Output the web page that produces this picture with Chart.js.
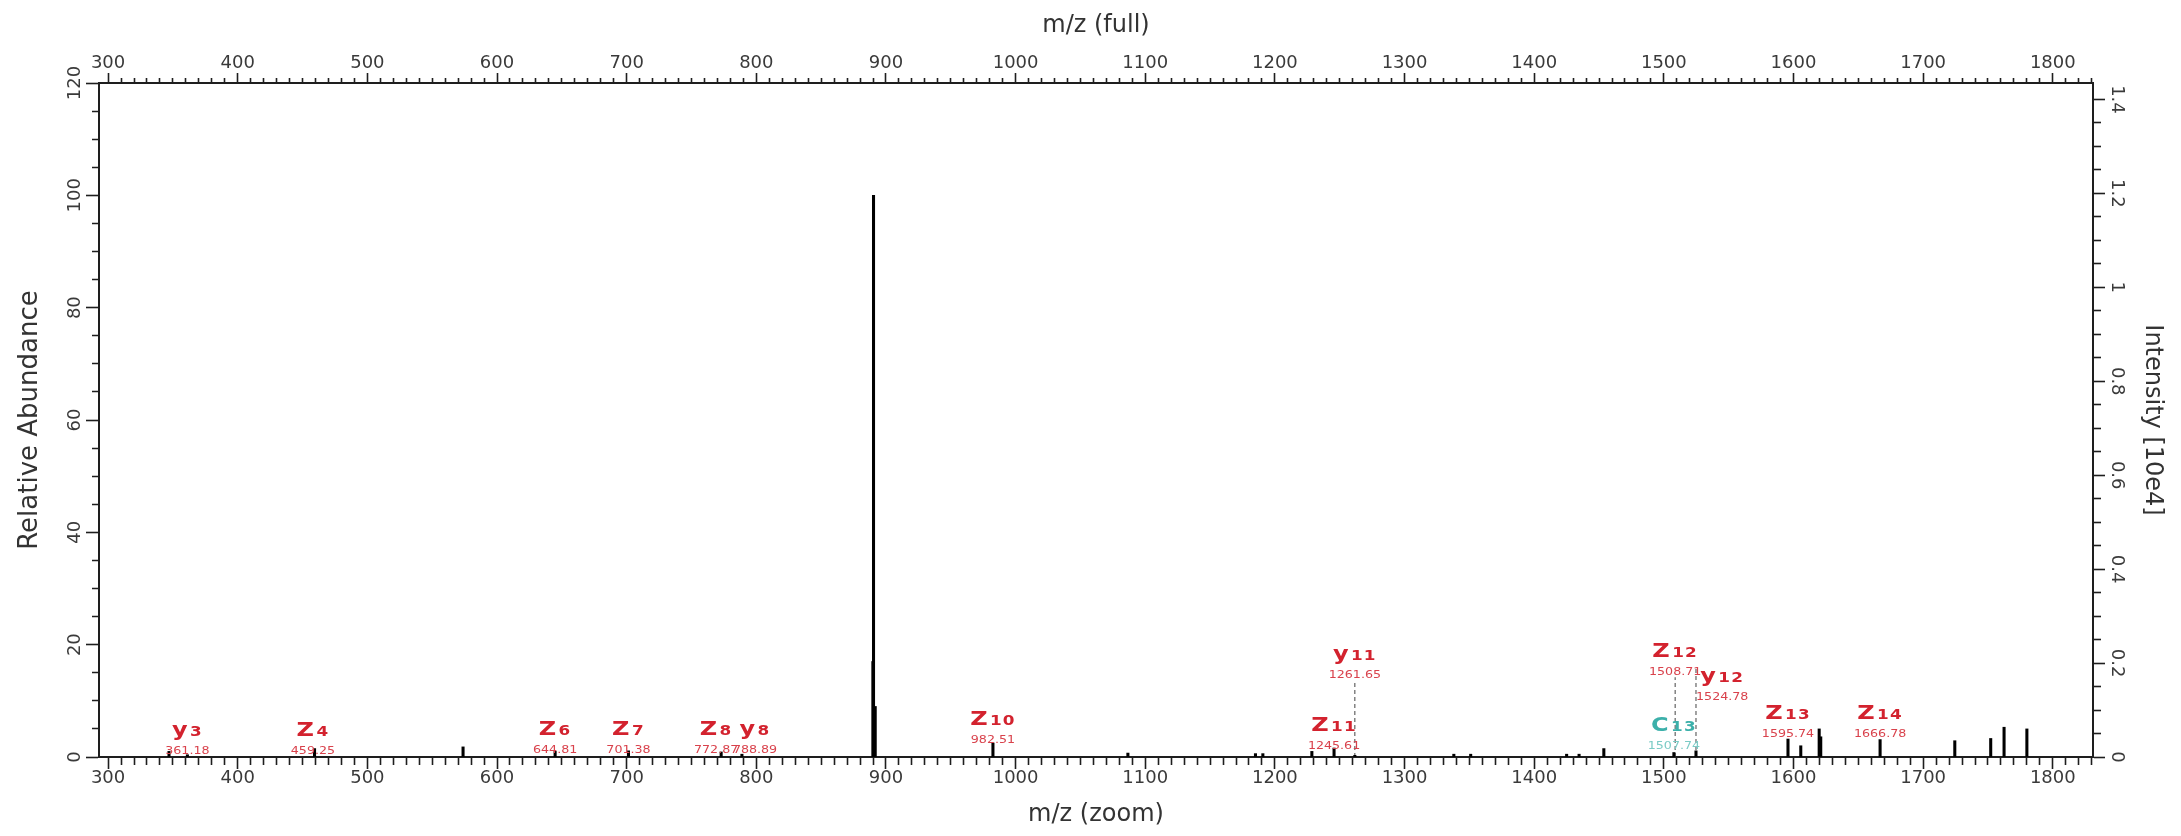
<!DOCTYPE html>
<html><head><meta charset="utf-8">
<script src="https://cdn.jsdelivr.net/npm/chart.js@4/dist/chart.umd.min.js"></script>
<style>html,body{margin:0;padding:0;background:#fff;}canvas{display:block;}</style>
</head><body>
<canvas id="c" width="2181" height="836"></canvas>
<script>
// ---- data ----
const peakMz = [347.0, 361.18, 459.25, 573.8, 644.81, 701.38, 772.87, 788.89, 889.9, 890.4, 891.7,
  982.51, 1086.6, 1185.0, 1190.7, 1228.5, 1245.61, 1261.65, 1338.0, 1351.0, 1425.0, 1434.6, 1453.7,
  1507.74, 1524.78, 1595.74, 1605.6, 1619.8, 1621.0, 1666.78, 1724.4, 1752.1, 1762.4, 1780.0];
const peakIntensity = [1.0, 0.4, 1.5, 1.8, 1.0, 1.1, 0.9, 0.5, 17, 100, 9,
  2.5, 0.7, 0.6, 0.6, 1.0, 1.6, 0.3, 0.5, 0.5, 0.5, 0.5, 1.5,
  0.8, 1.1, 3.2, 2.0, 5.0, 3.6, 3.1, 2.9, 3.3, 5.3, 5.0];

const dashMz = [1261.65, 1508.71, 1524.78];
const dashTop = [13.7, 14.2, 16.0];

const ionLetter = ['y', 'Z', 'Z', 'Z', 'Z', 'y', 'Z', 'Z', 'y', 'Z', 'y', 'C', 'Z', 'Z'];
const ionNumber = ['3', '4', '6', '7', '8', '8', '10', '11', '11', '12', '12', '13', '13', '14'];
const ionMzText = ['361.18', '459.25', '644.81', '701.38', '772.87', '788.89', '982.51', '1245.61',
  '1261.65', '1508.71', '1524.78', '1507.74', '1595.74', '1666.78'];
const ionAnchorMz = [361.18, 458, 644.81, 701.38, 769, 799, 982.51, 1245.61, 1261.65, 1508.71, 1545, 1507.74, 1595.74, 1666.78];
const ionLevel = [0.5, 0.5, 0.7, 0.7, 0.7, 0.7, 2.5, 1.4, 14, 14.6, 10.1, 1.4, 3.6, 3.6];

const mzMin = 293, mzMax = 1831;
const relMax = 120, intensityMax = 1.435;
const xTitleBottom = 'm/z (zoom)', xTitleTop = 'm/z (full)';
const yTitleLeft = 'Relative Abundance', yTitleRight = 'Intensity [10e4]';

// ---- styles ----
const AX = '#1e1e1e', TXT = '#3a3a3a';
const tickFont = {family: 'DejaVu Sans', size: 18};
const titleFontH = {family: 'DejaVu Sans', size: 24};
const isMult = (v, s) => Math.abs(v / s - Math.round(v / s)) < 1e-6;

const dashData = [];
dashMz.forEach((m, i) => { dashData.push({x: m, y: 0}, {x: m, y: dashTop[i]}, {x: m, y: null}); });

const ionLabels = {
  id: 'ionLabels',
  afterDatasetsDraw(chart) {
    const {ctx, scales: {x, y}} = chart;
    const SX = 1.2, SXN = 1.15;
    const LF = 'bold 20px "DejaVu Sans"', NF = 'bold 14px "DejaVu Sans"';
    ionLetter.forEach((L, i) => {
      const px = x.getPixelForValue(ionAnchorMz[i]);
      const py = y.getPixelForValue(ionLevel[i]);
      const teal = L.toLowerCase() === 'c';
      const strong = teal ? '#3cb0aa' : '#d3222e';
      const light = teal ? '#7ccbc6' : '#d9424c';
      // m/z value text
      ctx.save();
      ctx.translate(px, py);
      ctx.scale(SXN, 1);
      ctx.textBaseline = 'alphabetic';
      ctx.textAlign = 'center';
      ctx.font = '11px "DejaVu Sans"';
      ctx.fillStyle = light;
      ctx.fillText(ionMzText[i], 0, 0);
      ctx.restore();
      // ion name
      ctx.save();
      ctx.font = LF;
      const wL = ctx.measureText(L).width;
      ctx.font = NF;
      const wN = ctx.measureText(ionNumber[i]).width + ionNumber[i].length;
      const total = wL + 2 + wN;
      ctx.translate(px, py - 18);
      ctx.scale(SX, 1);
      ctx.textAlign = 'left';
      ctx.textBaseline = 'alphabetic';
      ctx.fillStyle = strong;
      ctx.font = LF;
      ctx.fillText(L, -total / 2, 0);
      ctx.font = NF;
      let cx = -total / 2 + wL + 2;
      for (const ch of ionNumber[i]) { ctx.fillText(ch, cx, 0); cx += ctx.measureText(ch).width + 1; }
      ctx.restore();
    });
  }
};

function xAxis(position, tl, minorDash, title, titlePad, fitH, pad) {
  return {
    type: 'linear', position, min: mzMin, max: mzMax, offset: false,
    border: {display: true, color: AX, width: 2},
    grid: {drawOnChartArea: false, drawTicks: true, offset: false, tickLength: tl, tickColor: AX, tickWidth: 1.6,
      tickBorderDash: ctx => (ctx.tick && isMult(ctx.tick.value, 100)) ? [] : minorDash},
    ticks: {stepSize: 10, includeBounds: false, autoSkip: false, maxRotation: 0, minRotation: 0,
      padding: pad, color: TXT, font: tickFont,
      callback: v => isMult(v, 100) ? String(Math.round(v)) : ''},
    title: {display: true, text: title, color: '#333', font: titleFontH, padding: titlePad},
    afterFit: s => { s.height = fitH; }
  };
}

new Chart(document.getElementById('c'), {
  type: 'bar',
  data: {
    datasets: [
      {type: 'bar', data: peakMz.map((m, i) => ({x: m, y: peakIntensity[i]})), xAxisID: 'x', yAxisID: 'y',
        backgroundColor: '#000', borderWidth: 0, barThickness: 2.4, grouped: false},
      {type: 'line', data: dashData, xAxisID: 'x', yAxisID: 'y', borderColor: '#444', borderWidth: 1,
        borderDash: [4, 3], pointRadius: 0, spanGaps: false, fill: false}
    ]
  },
  options: {
    responsive: false, animation: false,
    layout: {padding: 0},
    plugins: {legend: {display: false}, tooltip: {enabled: false}},
    scales: {
      x: xAxis('bottom', 12, [7, 100], xTitleBottom, {top: 0, bottom: 7}, 836 - 757, -1),
      x2: xAxis('top', 10, [0, 5, 5, 100], xTitleTop, {top: 11, bottom: 0}, 83, -1),
      y: {
        type: 'linear', position: 'left', min: 0, max: relMax,
        border: {display: true, color: AX, width: 2},
        grid: {drawOnChartArea: false, drawTicks: true, tickLength: 13, tickColor: AX, tickWidth: 1.6,
          tickBorderDash: ctx => (ctx.tick && isMult(ctx.tick.value, 20)) ? [] : [0, 6, 7, 100]},
        ticks: {stepSize: 5, includeBounds: false, autoSkip: false, minRotation: 90, maxRotation: 90,
          crossAlign: 'center', padding: -7, color: TXT, font: tickFont,
          callback: v => isMult(v, 20) ? String(Math.round(v)) : ''},
        title: {display: true, text: yTitleLeft, color: '#333', font: {family: 'DejaVu Sans', size: 26}, padding: {top: 15, bottom: 0}},
        afterFit: s => { s.width = 99; }
      },
      y2: {
        type: 'linear', position: 'right', min: 0, max: intensityMax,
        border: {display: true, color: AX, width: 2},
        grid: {drawOnChartArea: false, drawTicks: true, tickLength: 12, tickColor: AX, tickWidth: 1.6,
          tickBorderDash: ctx => (ctx.tick && isMult(ctx.tick.value, 0.2)) ? [] : [7, 100]},
        ticks: {stepSize: 0.05, includeBounds: false, autoSkip: false, minRotation: -90, maxRotation: -90,
          crossAlign: 'center', padding: -3, color: TXT, font: tickFont,
          callback: v => isMult(v, 0.2) ? String(+v.toFixed(1)) : ''},
        title: {display: true, text: yTitleRight, color: '#333', font: titleFontH, padding: {top: 14, bottom: 0}},
        afterFit: s => { s.width = 2181 - 2093; }
      }
    }
  },
  plugins: [ionLabels]
});
</script>
</body></html>
